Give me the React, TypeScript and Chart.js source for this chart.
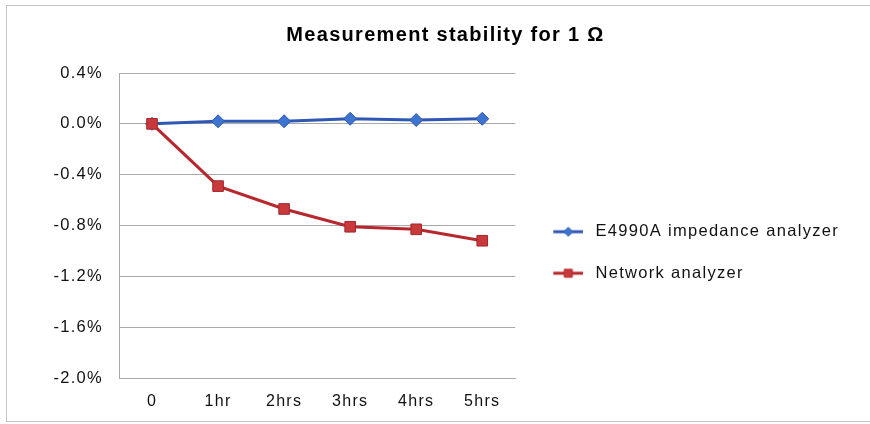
import React, { useEffect, useRef } from 'react';
import { Chart, registerables } from 'chart.js';

Chart.register(...registerables);

const categories = ['0', '1hr', '2hrs', '3hrs', '4hrs', '5hrs'];
const e4990aValues = [0, 0.02, 0.02, 0.04, 0.03, 0.04];
const networkValues = [0, -0.49, -0.67, -0.81, -0.83, -0.92];
const seriesLabels = ['E4990A impedance analyzer', 'Network analyzer'];
const chartTitle = 'Measurement stability for 1 \u03A9';
const yMin = -2.0;
const yMax = 0.4;
const yStep = 0.4;

const FONT = "'Liberation Sans', Arial, sans-serif";
const BLUE_LINE = '#2f58b4';
const BLUE_FILL = '#3d74cf';
const RED_LINE = '#b7282e';
const RED_FILL = '#c8393c';

function makeLegendIcon(kind: 'diamond' | 'square', line: string, fill: string) {
  const c = document.createElement('canvas');
  c.width = 39;
  c.height = 14;
  const ctx = c.getContext('2d')!;
  ctx.strokeStyle = line;
  ctx.lineWidth = 3;
  ctx.beginPath();
  ctx.moveTo(9, 7);
  ctx.lineTo(39, 7);
  ctx.stroke();
  const cx = 24;
  const cy = 7;
  ctx.fillStyle = fill;
  ctx.strokeStyle = line;
  ctx.lineWidth = 1;
  ctx.beginPath();
  if (kind === 'diamond') {
    ctx.moveTo(cx - 4.5, cy);
    ctx.lineTo(cx, cy - 4.5);
    ctx.lineTo(cx + 4.5, cy);
    ctx.lineTo(cx, cy + 4.5);
    ctx.closePath();
  } else {
    ctx.rect(cx - 4, cy - 4, 8, 8);
  }
  ctx.fill();
  ctx.stroke();
  return c;
}

const spacingPlugin = {
  id: 'letterSpacing',
  beforeUpdate(chart: any) {
    (chart.ctx as any).letterSpacing = '1.3px';
  },
  beforeLayout(chart: any) {
    (chart.ctx as any).letterSpacing = '1.3px';
  },
  beforeDraw(chart: any) {
    (chart.ctx as any).letterSpacing = '1.3px';
  },
};

export default function App() {
  const canvasRef = useRef<HTMLCanvasElement | null>(null);

  useEffect(() => {
    const canvas = canvasRef.current;
    if (!canvas) return;
    const icons = [
      makeLegendIcon('diamond', BLUE_LINE, BLUE_FILL),
      makeLegendIcon('square', RED_LINE, RED_FILL),
    ];
    const chart = new Chart(canvas, {
      type: 'line',
      data: {
        labels: categories,
        datasets: [
          {
            label: seriesLabels[0],
            data: e4990aValues,
            borderColor: BLUE_LINE,
            backgroundColor: BLUE_FILL,
            borderWidth: 3,
            pointStyle: 'rectRot',
            pointRadius: 6.5,
            pointBorderColor: BLUE_LINE,
            pointBackgroundColor: BLUE_FILL,
            pointBorderWidth: 1,
            tension: 0,
            order: 2,
          },
          {
            label: seriesLabels[1],
            data: networkValues,
            borderColor: RED_LINE,
            backgroundColor: RED_FILL,
            borderWidth: 3,
            pointStyle: 'rect',
            pointRadius: 7.5,
            pointBorderColor: '#a3262b',
            pointBackgroundColor: RED_FILL,
            pointBorderWidth: 1,
            tension: 0,
            order: 1,
          },
        ],
      },
      options: {
        responsive: false,
        animation: false,
        devicePixelRatio: 1,
        layout: { padding: { left: 35, right: 21, top: 0, bottom: 0 } },
        scales: {
          x: {
            type: 'category',
            offset: true,
            grid: { display: false, drawTicks: false },
            border: { display: true, color: '#aaaaaa', width: 1 },
            ticks: {
              padding: 14,
              color: '#111111',
              font: { family: FONT, size: 16 },
            },
            afterFit(scale: any) {
              scale.height = 43;
            },
          },
          y: {
            min: yMin,
            max: yMax,
            grid: { color: '#a9a9a9', lineWidth: 1, drawTicks: false },
            border: { display: true, color: '#a9a9a9', width: 1 },
            ticks: {
              stepSize: yStep,
              padding: 16,
              color: '#111111',
              font: { family: FONT, size: 16.5 },
              callback: (value: any) => {
                const v = Math.round(Number(value) * 10) / 10;
                return (v === 0 ? 0 : v).toFixed(1) + '%';
              },
            },
            afterFit(scale: any) {
              scale.width = 77;
            },
          },
        },
        plugins: {
          title: {
            display: true,
            text: chartTitle,
            color: '#000000',
            font: { family: FONT, size: 20, weight: 'bold' },
            padding: { top: 17.5, bottom: 25.5 },
          },
          legend: {
            position: 'right',
            align: 'center',
            fullSize: false,
            maxWidth: 420,
            title: { display: true, text: '', padding: { top: 0, bottom: 39.6 }, font: { size: 12 } },
            labels: {
              usePointStyle: true,
              pointStyleWidth: 47,
              padding: 25,
              color: '#111111',
              font: { family: FONT, size: 16.5 },
              generateLabels: (chart: any) =>
                chart.data.datasets.map((ds: any, i: number) => ({
                  text: ds.label,
                  pointStyle: icons[i],
                  fillStyle: ds.backgroundColor,
                  strokeStyle: ds.borderColor,
                  lineWidth: 0,
                  hidden: false,
                  datasetIndex: i,
                  fontColor: '#111111',
                })),
            },
          },
          tooltip: { enabled: false },
        },
      } as any,
      plugins: [spacingPlugin],
    });
    return () => chart.destroy();
  }, []);

  return (
    <div
      style={{
        position: 'absolute',
        left: 6,
        top: 5,
        width: 880,
        height: 417,
        border: '1px solid #c4c4c4',
        boxSizing: 'border-box',
        overflow: 'hidden',
        background: '#ffffff',
      }}
    >
      <canvas ref={canvasRef} width={863} height={415} style={{ display: 'block' }} />
    </div>
  );
}
